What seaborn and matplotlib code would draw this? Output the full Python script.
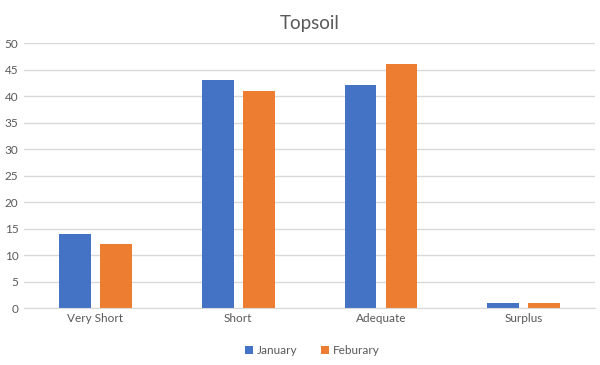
import pandas as pd
import matplotlib
matplotlib.use("Agg")
import matplotlib.pyplot as plt
import seaborn as sns

# data
categories = ["Very Short", "Short", "Adequate", "Surplus"]
january = [14, 43, 42, 1]
feburary = [12, 41, 46, 1]
series_names = ["January", "Feburary"]

df = pd.DataFrame({
    "Category": categories * 2,
    "Value": january + feburary,
    "Month": [series_names[0]] * 4 + [series_names[1]] * 4,
})

sns.set_style("white")
plt.rcParams["font.family"] = ["Lato", "DejaVu Sans"]

text_color = "#595959"
grid_color = "#D9D9D9"

fig = plt.figure(figsize=(6, 3.65), dpi=100)
ax = fig.add_axes([0.04, 0.156, 0.952, 0.726])

sns.barplot(data=df, x="Category", y="Value", hue="Month",
            palette=["#4472C4", "#ED7D31"], width=0.574, gap=0.22,
            saturation=1, linewidth=0, ax=ax, legend=True)

ax.set_ylim(0, 50)
ax.set_yticks(range(0, 51, 5))
ax.set_xlim(-0.5, 3.5)
ax.yaxis.grid(True, color=grid_color, linewidth=1)
ax.set_axisbelow(True)
for s in ["top", "left", "right"]:
    ax.spines[s].set_visible(False)
ax.spines["bottom"].set_color(grid_color)
ax.tick_params(axis="both", length=0, colors=text_color, labelsize=8.5)
ax.tick_params(axis="y", pad=4)
ax.set_xlabel("")
ax.set_ylabel("")
ax.set_title("Topsoil", fontsize=13.5, color=text_color, pad=10)

handles, labels = ax.get_legend_handles_labels()
ax.legend(handles, labels, loc="upper center", bbox_to_anchor=(0.505, -0.1),
          ncol=2, frameon=False, fontsize=8.5, handlelength=0.7,
          handleheight=0.7, handletextpad=0.3, columnspacing=2.0,
          labelcolor=text_color)

fig.savefig("out.png", dpi=100)
